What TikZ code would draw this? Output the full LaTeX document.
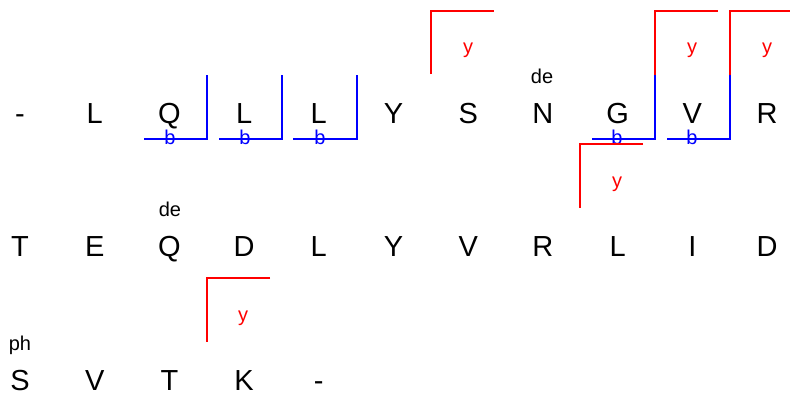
\documentclass[tikz,border=0pt]{standalone}
\usepackage{fontspec}
\setmainfont{Liberation Sans}
\begin{document}
\begin{tikzpicture}[x=1pt,y=-1pt,
  aa/.style={inner sep=0pt,anchor=base,font=\fontsize{29}{30}\selectfont},
  lab/.style={inner sep=0pt,anchor=base,font=\fontsize{20}{22}\selectfont},
  bl/.style={lab,text=blue},
  yl/.style={lab,text=red},
  bion/.style={draw=blue,line width=2.2pt},
  yion/.style={draw=red,line width=2.2pt}]
\useasboundingbox (0,0) rectangle (790,392);
% row 1
\foreach \t [count=\i from 0] in {-,L,Q,L,L,Y,S,N,G,V,R}
  \node[aa] (a\i) at (20+74.7*\i,123) {\t};
% row 2
\foreach \t [count=\i from 0] in {T,E,Q,D,L,Y,V,R,L,I,D}
  \node[aa] (b\i) at (20+74.7*\i,256.5) {\t};
% row 3
\foreach \t [count=\i from 0] in {S,V,T,K,-}
  \node[aa] (c\i) at (20+74.7*\i,390) {\t};
% modification labels
\node[lab] (m1) at (542,83) {de};
\node[lab] (m2) at (170,216.5) {de};
\node[lab] (m3) at (20,350) {ph};
% b ions row 1
\draw[bion] (144,139) -- (207,139) -- (207,75);
\node[bl] (bq) at (170,144) {b};
\draw[bion] (219,139) -- (282,139) -- (282,75);
\node[bl] (bl1) at (245,144) {b};
\draw[bion] (293,139) -- (357,139) -- (357,75);
\node[bl] (bl2) at (320,144) {b};
\draw[bion] (592,139) -- (655,139) -- (655,75);
\node[bl] (bg) at (617,144) {b};
\draw[bion] (667,139) -- (730,139) -- (730,75);
\node[bl] (bv) at (692,144) {b};
% y ions row 1
\draw[yion] (431,74) -- (431,10.7) -- (494,10.7);
\node[yl] (ys) at (468,53) {y};
\draw[yion] (655,75) -- (655,10.7) -- (718,10.7);
\node[yl] (yv) at (692,53) {y};
\draw[yion] (730,75) -- (730,10.7) -- (790,10.7);
\node[yl] (yr) at (767,53) {y};
% y ion below G
\draw[yion] (643,144.3) -- (580,144.3) -- (580,208);
\node[yl] (yg) at (617,187) {y};
% y ion row 3
\draw[yion] (270,277.7) -- (207,277.7) -- (207,341.7);
\node[yl] (yk) at (243,321) {y};
\end{tikzpicture}
\end{document}
